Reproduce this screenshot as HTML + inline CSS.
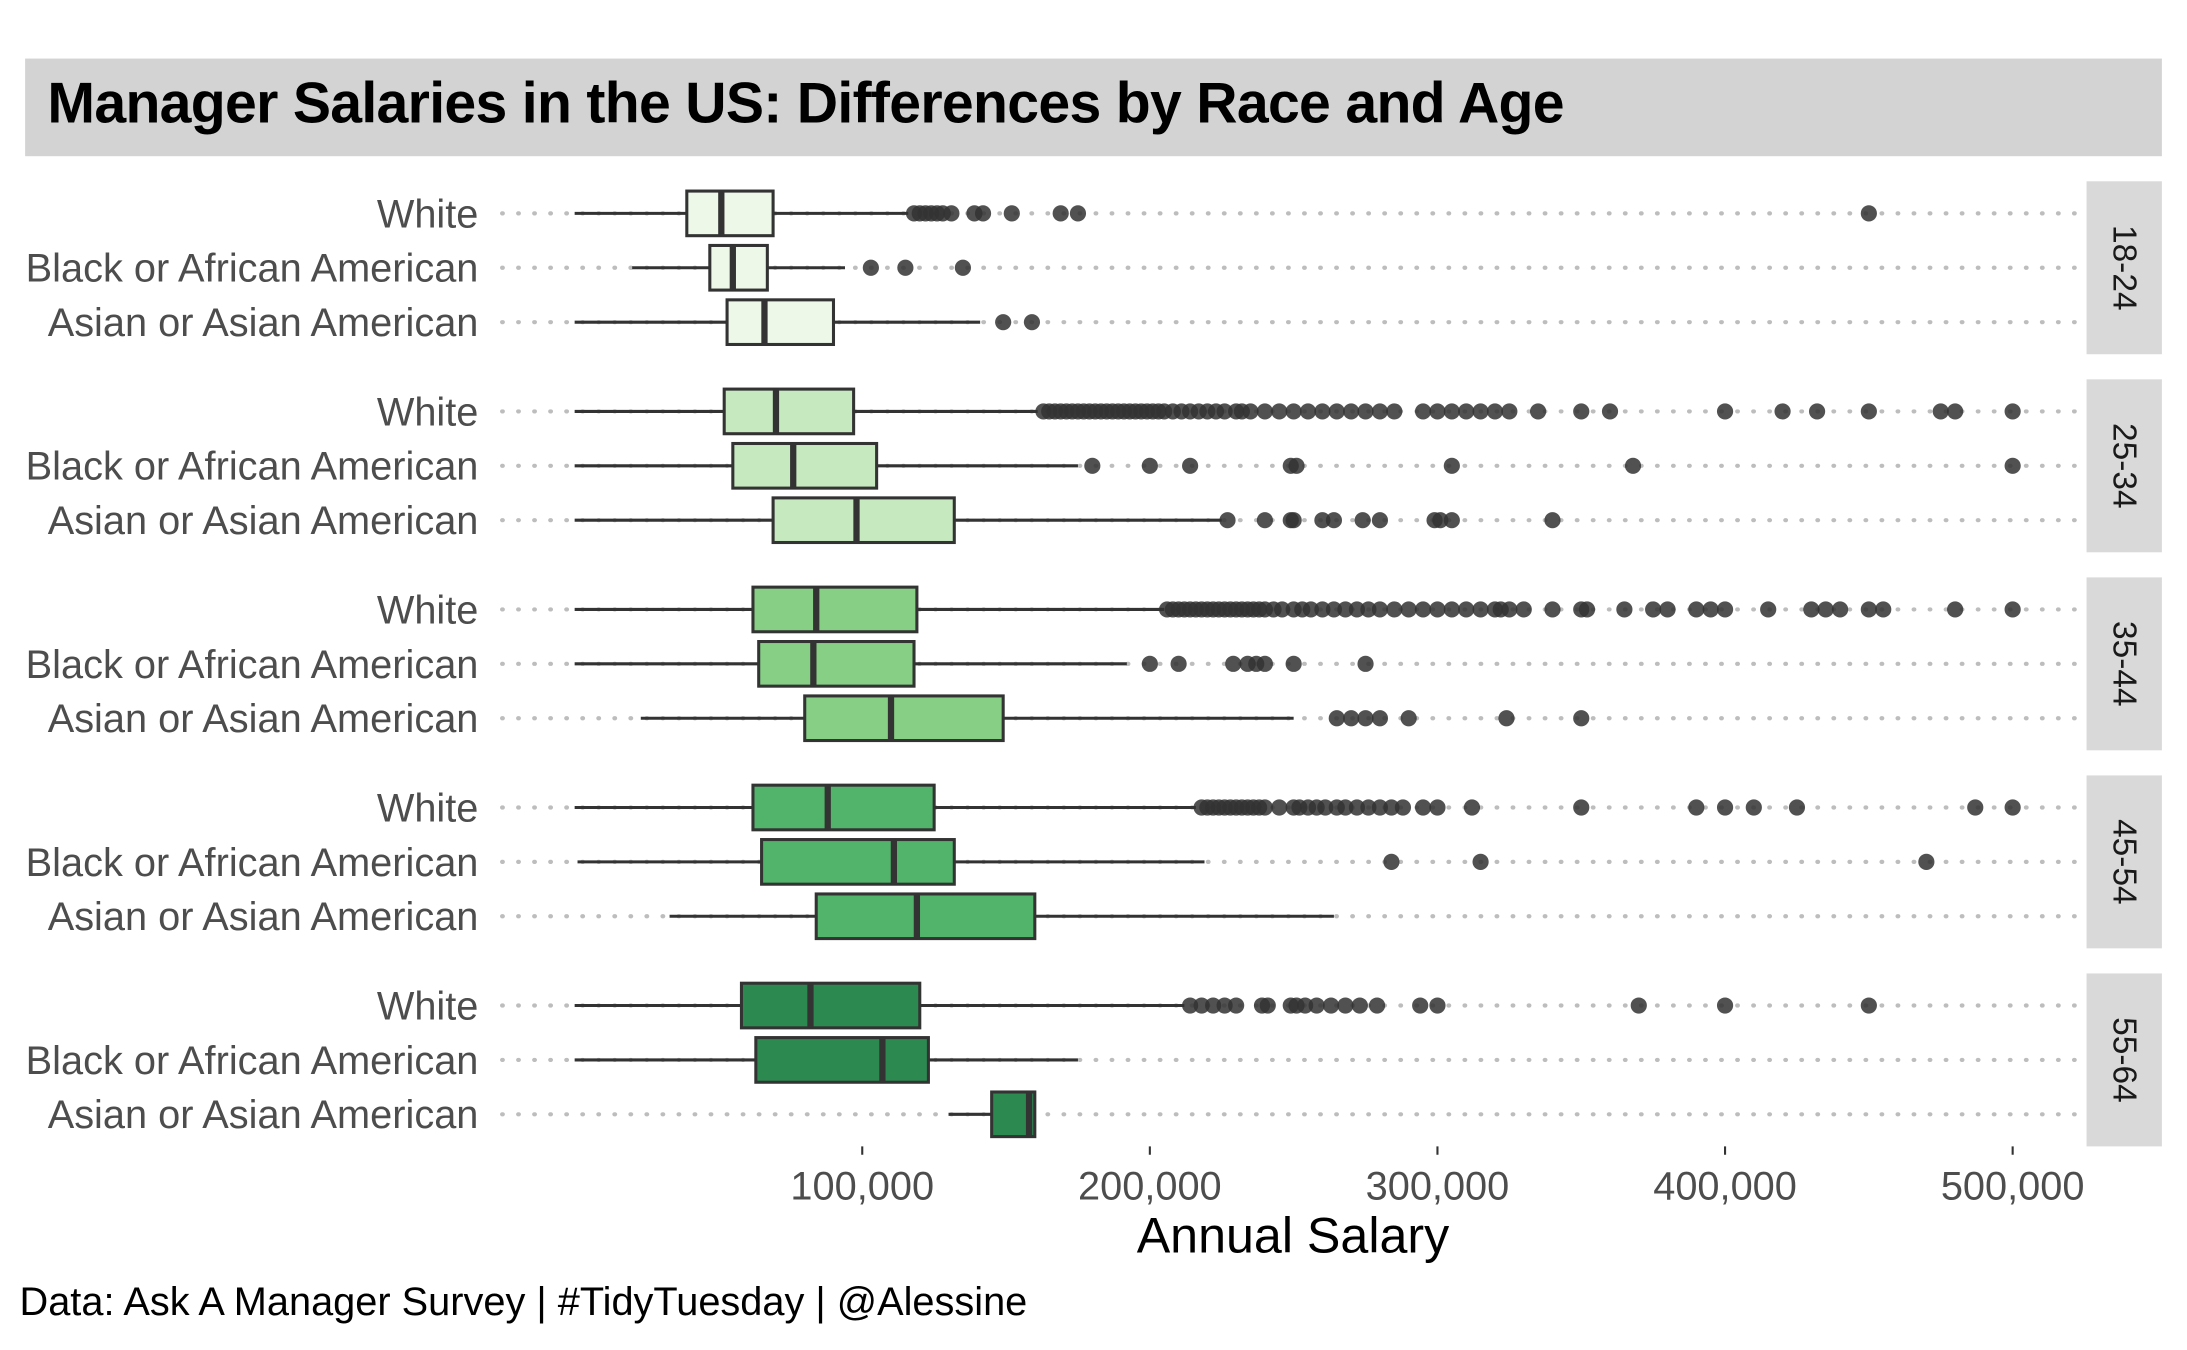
<!DOCTYPE html>
<html><head><meta charset="utf-8"><style>
html,body{margin:0;padding:0;background:#fff}
svg{display:block;font-family:"Liberation Sans",Arial,sans-serif}
</style></head><body>
<svg id="chart" width="2187" height="1350" viewBox="0 0 1568 968" preserveAspectRatio="none" xmlns="http://www.w3.org/2000/svg">
<rect x="0" y="0" width="1568" height="968" fill="#fff"/>
<rect x="18" y="42" width="1532" height="70" fill="#d3d3d3"/>
<text x="34" y="88" font-size="41" font-weight="bold" fill="#000" letter-spacing="-0.5">Manager Salaries in the US: Differences by Race and Age</text>
<g id="plot"></g>
<text x="927" y="898" font-size="36" text-anchor="middle" fill="#000">Annual Salary</text>
<text x="14" y="943" font-size="28.5" fill="#000">Data: Ask A Manager Survey | #TidyTuesday | @Alessine</text>
</svg>
<script>
const ageGroups = ["18-24","25-34","35-44","45-54","55-64"];
const races = ["White","Black or African American","Asian or Asian American"];
const fills = ["#edf8e9","#c7e9c0","#86cf85","#52b46b","#2c8a50"];
// [whiskerLow, q1, median, q3, whiskerHigh] in thousands USD, per age group, per race
const stats = [
 [[0,39,51,69,116],[20,47,55,67,94],[0,53,66,90,141]],
 [[0,52,70,97,161],[0,55,76,105,175],[0,69,98,132,225]],
 [[0,62,84,119,205],[0,64,83,118,192],[23,80,110,149,250]],
 [[0,62,88,125,216],[1,65,111,132,219],[33,84,119,160,264]],
 [[0,58,82,120,212],[0,63,107,123,175],[130,145,158,160,160]]
];
const outliers = [
 [[118,120,122,124,126,128,131,139,142,152,169,175,450],[103,115,135],[149,159]],
 [[163,165,167,169,171,173,175,177,179,181,183,185,187,189,191,193,195,197,199,201,203,205,208,211,214,217,220,223,226,230,232,235,240,245,250,255,260,265,270,275,280,285,295,300,305,310,315,320,325,335,350,360,400,420,432,450,475,480,500],[180,200,214,249,251,305,368,500],[227,240,249,250,260,264,274,280,299,301,305,340]],
 [[206,208,210,212,214,216,218,220,222,224,226,228,230,232,234,236,238,240,243,246,250,253,256,260,264,268,272,276,280,285,290,295,300,305,310,315,320,322,325,330,340,350,352,365,375,380,390,395,400,415,430,435,440,450,455,480,500],[200,210,229,234,237,240,250,275],[265,270,275,280,290,324,350]],
 [[218,220,222,224,226,228,230,232,234,236,238,240,245,250,252,255,258,261,265,268,272,276,280,284,288,295,300,312,350,390,400,410,425,487,500],[284,315,470],[]],
 [[214,218,222,226,230,239,241,249,251,254,258,263,268,273,279,294,300,370,400,450],[],[]]
];
const xTicks = [100,200,300,400,500];
const xTickLabels = ["100,000","200,000","300,000","400,000","500,000"];

const NS="http://www.w3.org/2000/svg";
const plot=document.getElementById("plot");
const x = v => 412 + v*2.062;
const panelTop = i => 130 + i*142;
const rowY = (i,j) => panelTop(i) + 23 + j*39;
function mk(tag,attrs,parent){const e=document.createElementNS(NS,tag);for(const k in attrs)e.setAttribute(k,attrs[k]);(parent||plot).appendChild(e);return e;}

ageGroups.forEach((ag,i)=>{
  const g=mk("g",{});
  
  
  const strip=mk("rect",{x:1496,y:panelTop(i),width:54,height:124,fill:"#d9d9d9"},g);
  
  
  const cy=panelTop(i)+62;
  const st=mk("text",{x:1523,y:cy,"font-size":24,fill:"#1a1a1a","text-anchor":"middle","dominant-baseline":"central",transform:`rotate(90 1523 ${cy})`},g);
  st.textContent=ag;
  
  
  races.forEach((r,j)=>{
    const y=rowY(i,j);
    const grid=mk("line",{x1:360,x2:1492,y1:y,y2:y,stroke:"#bdbdbd","stroke-width":3,"stroke-dasharray":"0.5 11","stroke-linecap":"round"},g);
    
    
    const lab=mk("text",{x:343,y:y+10,"font-size":28.5,fill:"#4d4d4d","text-anchor":"end"},g);
    lab.textContent=r;
    
    
    const s=stats[i][j];
    const wh=mk("line",{x1:x(s[0]),x2:x(s[4]),y1:y,y2:y,stroke:"#333","stroke-width":2.2},g);
    
    
    const box=mk("rect",{x:x(s[1]),y:y-16,width:x(s[3])-x(s[1]),height:32,fill:fills[i],stroke:"#333","stroke-width":2.2},g);
    
    
    const med=mk("line",{x1:x(s[2]),x2:x(s[2]),y1:y-16,y2:y+16,stroke:"#333","stroke-width":4.5},g);
    
    
    outliers[i][j].forEach(v=>{
      const c=mk("circle",{cx:x(v),cy:y,r:5.8,fill:"#333","fill-opacity":0.85},g);
      
      
    });
  });
});
xTicks.forEach((v,k)=>{
  const t=mk("line",{x1:x(v),x2:x(v),y1:822,y2:828,stroke:"#333","stroke-width":1.5});
  
  
  const tl=mk("text",{x:x(v),y:860,"font-size":28.5,fill:"#4d4d4d","text-anchor":"middle"});
  tl.textContent=xTickLabels[k];
  
  
});
</script>
</body></html>
